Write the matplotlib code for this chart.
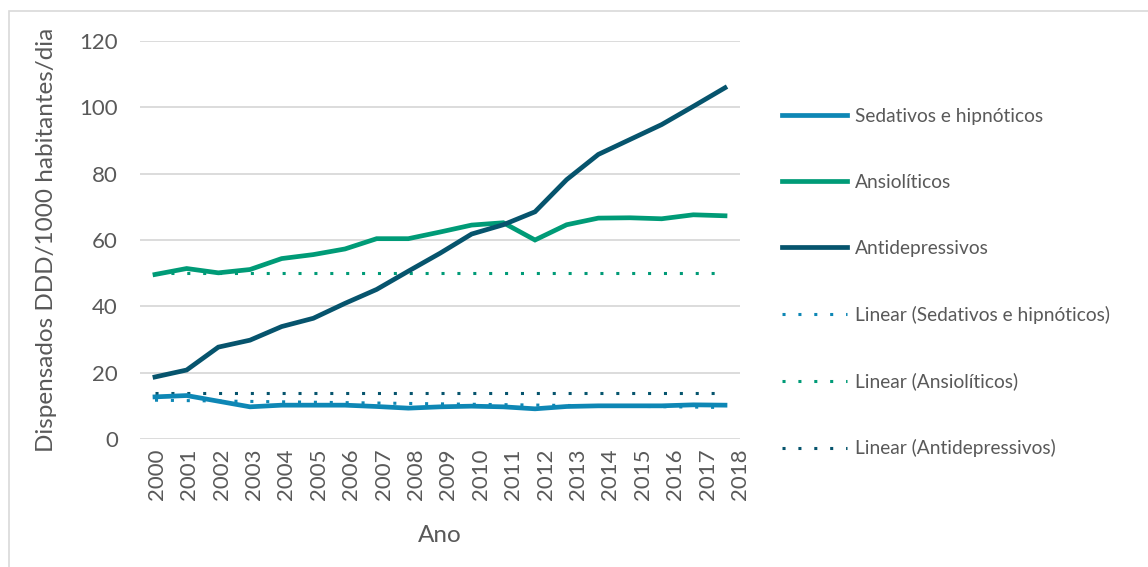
"""
Dispensa de psicofármacos em Portugal (DDD/1000 habitantes/dia), 2000-2018,
com linhas de tendência linear.
"""

import numpy as np
import matplotlib
matplotlib.use("Agg")
import matplotlib.pyplot as plt
from matplotlib.patches import Rectangle

YEARS = list(range(2000, 2019))

SEDATIVOS = [12.7, 13.1, 11.4, 9.7, 10.2, 10.2, 10.2, 9.8, 9.3, 9.7,
             9.9, 9.7, 9.1, 9.8, 10.0, 10.0, 10.0, 10.3, 10.2]
ANSIOLITICOS = [49.6, 51.4, 50.1, 51.1, 54.4, 55.6, 57.3, 60.4, 60.4, 62.4,
                64.5, 65.2, 60.0, 64.6, 66.6, 66.7, 66.4, 67.6, 67.3]
ANTIDEPRESSIVOS = [18.7, 20.8, 27.7, 29.8, 33.9, 36.4, 40.9, 45.1, 50.6, 56.0,
                   61.8, 64.6, 68.5, 78.2, 85.8, 90.3, 94.8, 100.3, 105.9]

# tendências lineares tal como aparecem no gráfico (início, fim)
TREND_SEDATIVOS = [11.7, 9.5]
TREND_ANSIOLITICOS = [50.2, 50.2]
TREND_ANTIDEPRESSIVOS = [13.9, 13.9]

NAMES = ["Sedativos e hipnóticos", "Ansiolíticos", "Antidepressivos"]
COLORS = ["#0e87b5", "#009b77", "#06546d"]
TEXT = "#595959"

plt.rcParams["font.family"] = ["Lato", "DejaVu Sans"]

fig = plt.figure(figsize=(11.48, 5.67), dpi=100)
fig.patches.append(Rectangle((9 / 1148, -0.1), 1.2, (556 + 0.1 * 567) / 567,
                             transform=fig.transFigure, fill=False,
                             edgecolor="#d9d9d9", linewidth=1.2))
ax = fig.add_axes([140 / 1148, 128 / 567, 600 / 1148, 398 / 567])

series = [SEDATIVOS, ANSIOLITICOS, ANTIDEPRESSIVOS]
trends = [TREND_SEDATIVOS, TREND_ANSIOLITICOS, TREND_ANTIDEPRESSIVOS]

solid = []
for vals, name, color in zip(series, NAMES, COLORS):
    h, = ax.plot(YEARS, vals, color=color, linewidth=3.4, label=name,
                 solid_joinstyle="miter", zorder=3)
    solid.append(h)

dotted = []
for tr, name, color in zip(trends, NAMES, COLORS):
    h, = ax.plot([YEARS[0], YEARS[-1]], tr, color=color, linewidth=2.2,
                 linestyle=(0, (1, 4.2)), dash_capstyle="butt",
                 label=f"Linear ({name})", zorder=2)
    dotted.append(h)

ax.set_ylim(0, 120)
ax.set_yticks(range(0, 121, 20))
ax.set_xlim(2000 - 15 / 31.67, 2000 + 585 / 31.67)
ax.set_xticks(2000.06 + np.arange(len(YEARS)) * 1.023)
ax.set_xticklabels([str(y) for y in YEARS], rotation=90)

ax.grid(True, axis="y", color="#d9d9d9", linewidth=1.3)
ax.set_axisbelow(True)
for s in ax.spines.values():
    s.set_visible(False)
ax.tick_params(axis="both", length=0, labelsize=16, colors=TEXT)
ax.tick_params(axis="y", pad=16)
ax.tick_params(axis="x", pad=7)

ax.set_ylabel("Dispensados DDD/1000 habitantes/dia", fontsize=17.5,
              color=TEXT, labelpad=16)
ax.set_xlabel("Ano", fontsize=17.5, color=TEXT, labelpad=18)

leg = ax.legend(handles=solid + dotted, loc="upper left",
                bbox_to_anchor=((782 - 140) / 600, (439 - 108) / 398),
                frameon=False, fontsize=13.8, handlelength=3.4,
                handletextpad=0.4, labelspacing=2.55, borderaxespad=0,
                borderpad=0)
for t in leg.get_texts():
    t.set_color(TEXT)

fig.savefig("out.png", dpi=100)
plt.close(fig)
